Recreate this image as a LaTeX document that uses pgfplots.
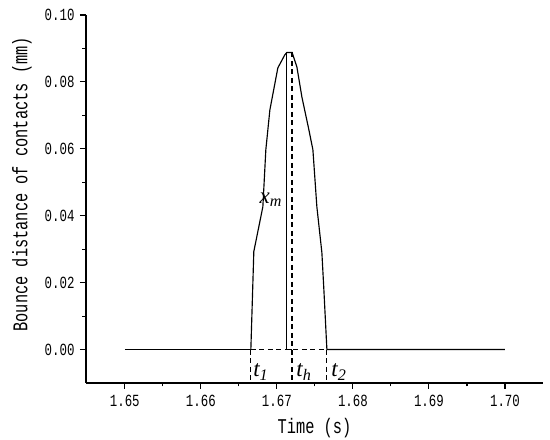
\documentclass[border=0pt]{standalone}
\usepackage{pgfplots}
\pgfplotsset{compat=1.18}
\usepackage{fontspec}
\setmainfont[FakeStretch=0.73]{Liberation Mono}
\newfontfamily\tnr{Liberation Serif}
\begin{document}
\begin{tikzpicture}
\begin{axis}[
  scale only axis, width=457pt, height=368pt,
  xmin=1.6449, xmax=1.705, ymin=-0.01, ymax=0.10,
  clip=false,
  axis x line*=bottom, axis y line*=left,
  axis line style={line width=1.1pt,-},
  xtick={1.65,1.66,1.67,1.68,1.69,1.70},
  ytick={0,0.02,0.04,0.06,0.08,0.10},
  minor x tick num=1, minor y tick num=1,
  tick align=outside, major tick length=6pt, minor tick length=3.5pt,
  every tick/.style={line width=1.1pt, black},
  /pgf/number format/assume math mode=true,
  /pgf/number format/fixed, /pgf/number format/fixed zerofill,
  /pgf/number format/precision=2,
  scaled ticks=false,
  ticklabel style={font=\fontsize{17}{17}\selectfont},
  xticklabel style={yshift=-3pt},
  yticklabel style={xshift=-2pt},
  xlabel={Time (s)},
  ylabel={Bounce distance of contacts (mm)},
  label style={font=\fontsize{21}{21}\selectfont},
  xlabel style={at={(axis description cs:0.5,-0.122)}, anchor=center},
  ylabel style={at={(axis description cs:-0.14,0.54)}, anchor=center, rotate=0},
]
\addplot[black, line width=1.15pt] coordinates {
 (1.65,0) (1.66658,0) };
\addplot[black, line width=1.15pt] coordinates {
 (1.66658,0) (1.66697,0.0293) (1.66816,0.0427) (1.66855,0.0597)
 (1.66908,0.0716) (1.67013,0.0842) (1.67105,0.0881) (1.67132,0.0888)
 (1.6720,0.0888) (1.67263,0.0845) (1.67329,0.0755) (1.67421,0.0657)
 (1.67474,0.0597) (1.67526,0.0427) (1.67592,0.029) (1.67618,0.018)
 (1.67658,0) (1.70,0) };
\addplot[black, line width=1.15pt] coordinates {
 (1.67132,0.0888) (1.67132,0) (1.6720,0) };
\addplot[black, line width=1.15pt, dash pattern=on 5pt off 3.5pt] coordinates {
 (1.66658,0) (1.67658,0) };
\addplot[black, line width=1.15pt, dash pattern=on 5pt off 3.5pt] coordinates {
 (1.66658,0) (1.66658,-0.01) };
\addplot[black, line width=1.15pt, dash pattern=on 5pt off 3.5pt] coordinates {
 (1.6720,0.0888) (1.6720,-0.01) };
\addplot[black, line width=1.15pt, dash pattern=on 5pt off 3.5pt] coordinates {
 (1.67658,0) (1.67658,-0.01) };
\node[font=\fontsize{23}{23}\selectfont\tnr\itshape] at (axis cs:1.6692,0.0448) {x\textsubscript{m}};
\node[font=\fontsize{23}{23}\selectfont\tnr\itshape] at (axis cs:1.66789,-0.0068) {t\textsubscript{1}};
\node[font=\fontsize{23}{23}\selectfont\tnr\itshape] at (axis cs:1.67355,-0.0068) {t\textsubscript{h}};
\node[font=\fontsize{23}{23}\selectfont\tnr\itshape] at (axis cs:1.67816,-0.0068) {t\textsubscript{2}};
\coordinate (bl) at (rel axis cs:0,0);
\coordinate (tr) at (rel axis cs:1,1);
\end{axis}
\pgfresetboundingbox
\path ([shift={(-86pt,-57pt)}]bl) rectangle ([shift={(7pt,15pt)}]tr);
\end{tikzpicture}
\end{document}
